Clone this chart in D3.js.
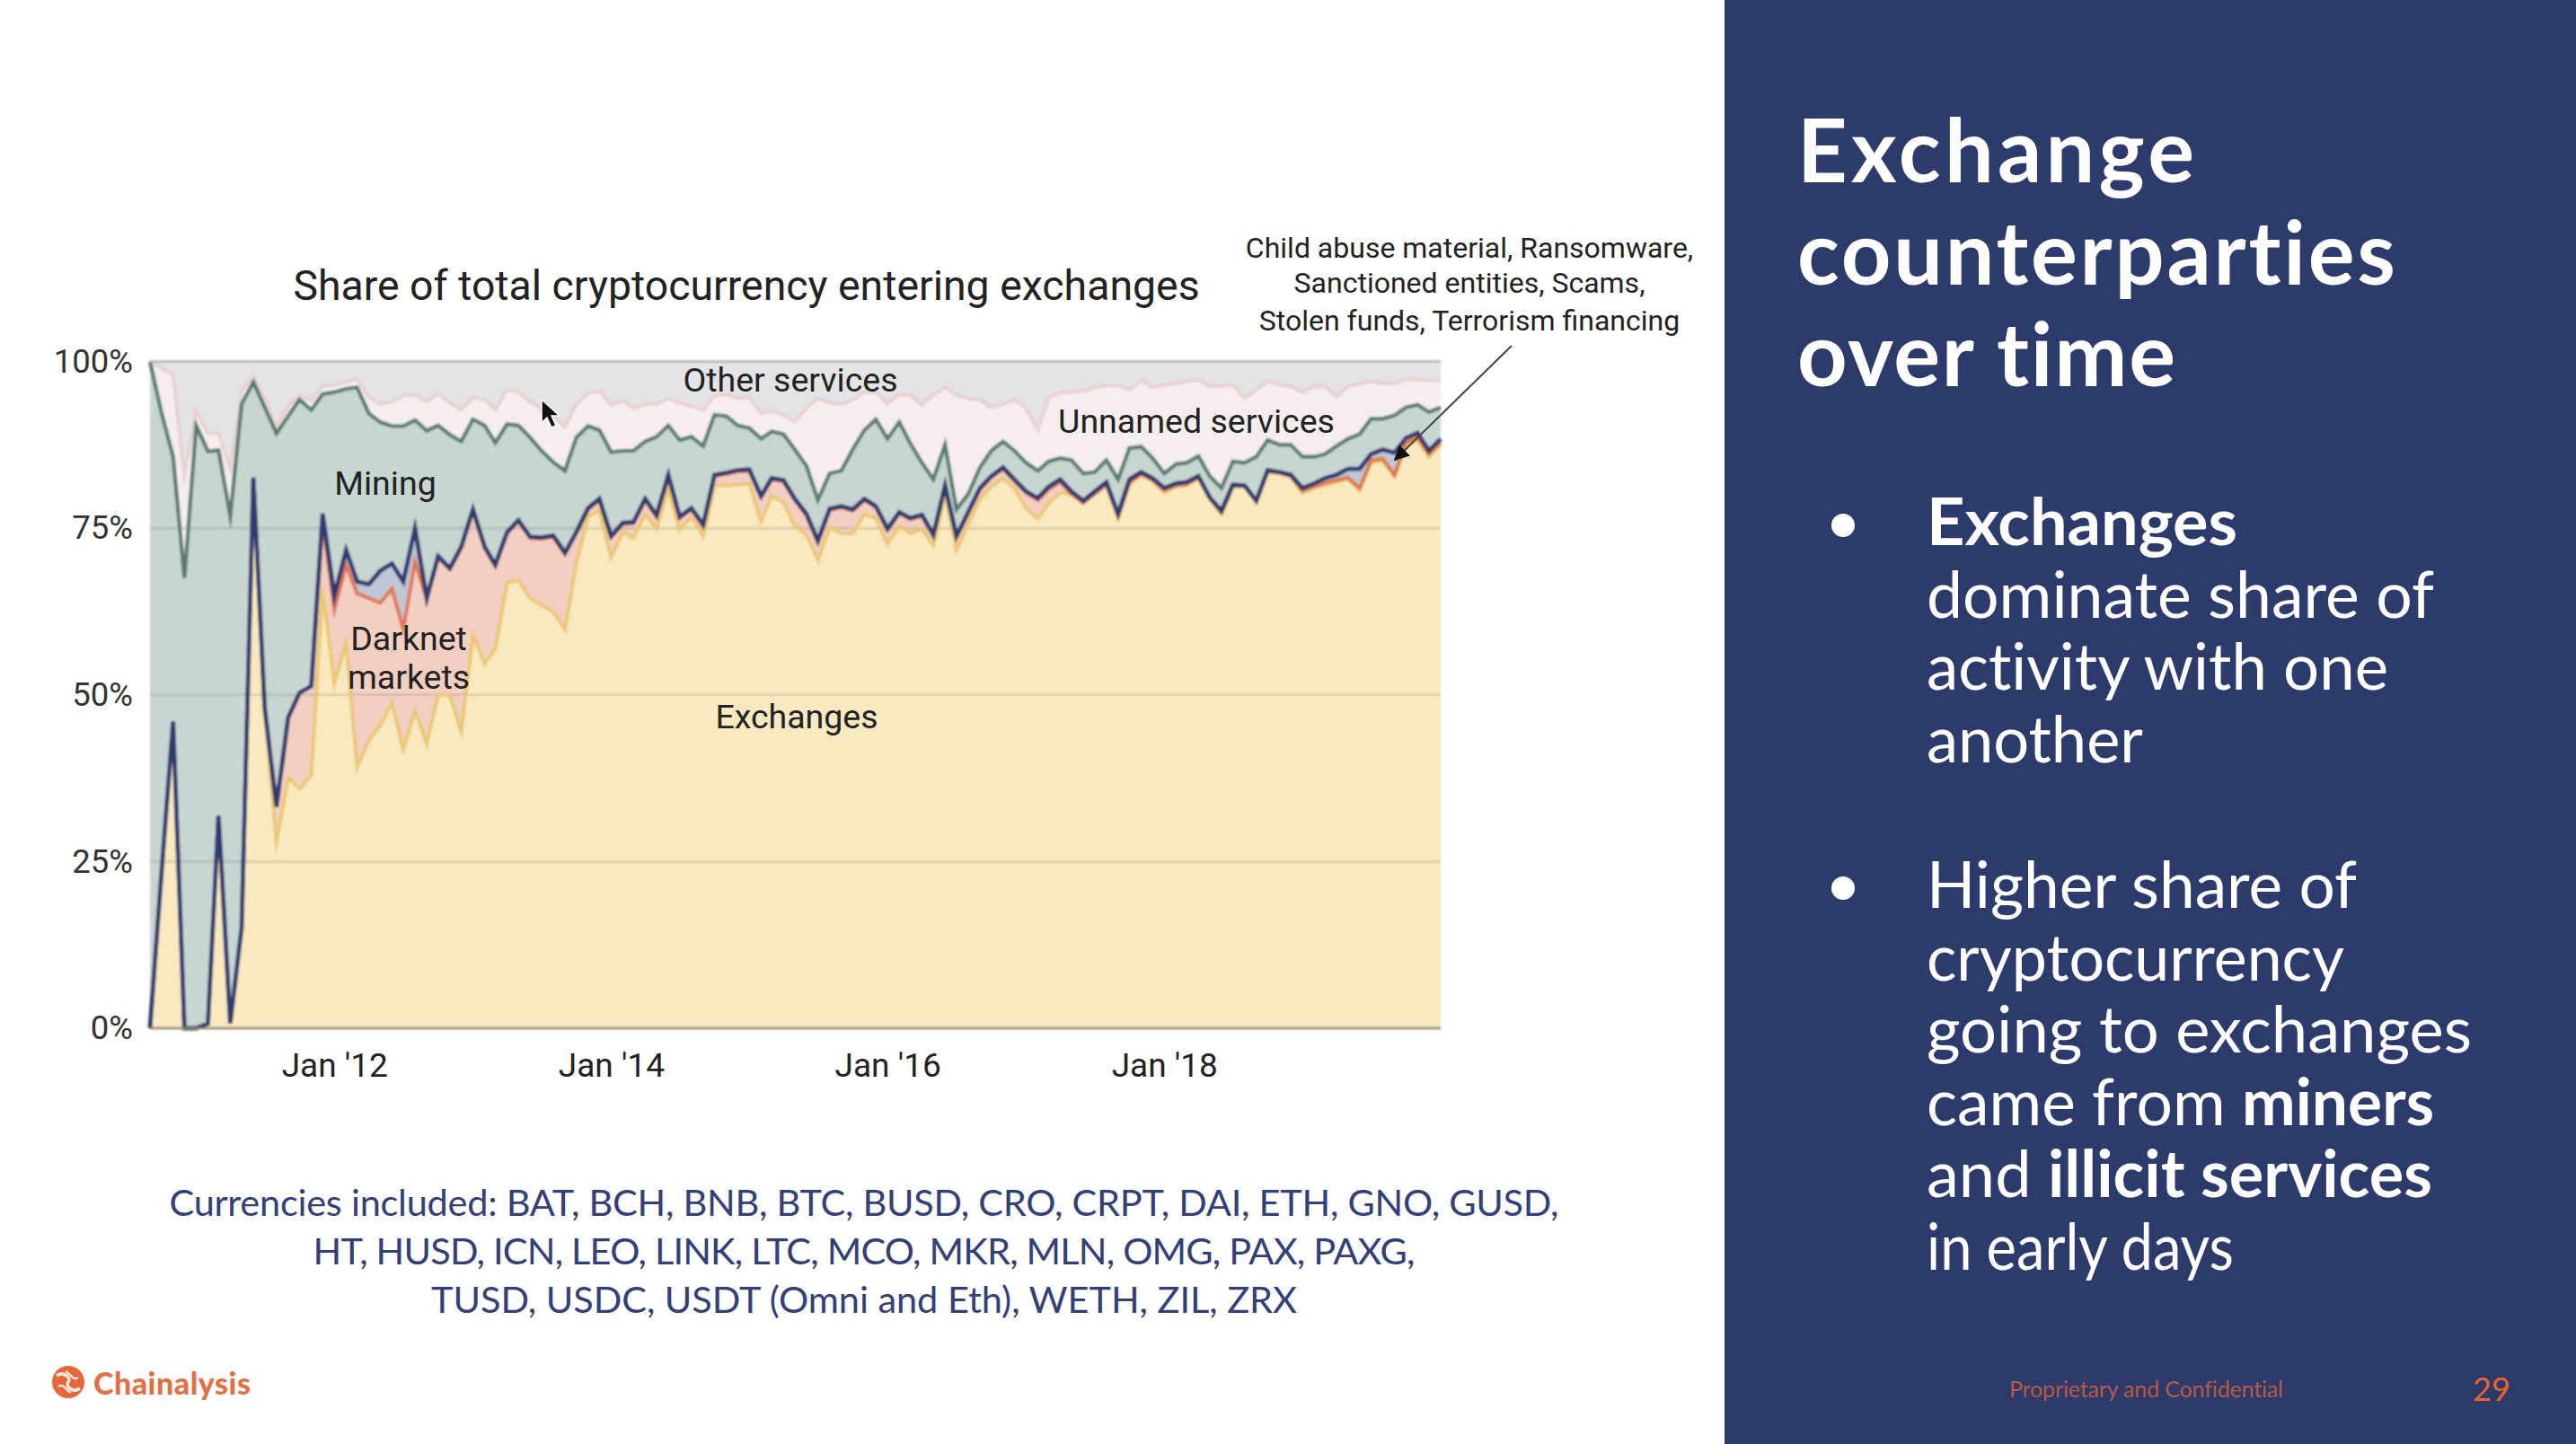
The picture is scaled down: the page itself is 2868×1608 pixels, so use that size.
<!DOCTYPE html>
<html><head><meta charset="utf-8">
<script src="https://cdnjs.cloudflare.com/ajax/libs/d3/7.8.5/d3.min.js"></script>
<style>
html,body{margin:0;padding:0;background:#fff;overflow:hidden}
svg{display:block}
.c{font-family:Roboto,sans-serif;fill:#222}
.m{font-family:Lato,sans-serif;font-variant-ligatures:none}
</style></head><body>
<script>
// Cumulative share (%) at the top of each stacked layer, monthly Sep 2010 - Jan 2020
const exchangesTop=[
0,23,46,0,0,0.7,31.9,0.7,15,82.5,
48,27.9,37.6,35.9,37.9,65.8,51.7,57.8,39.1,43.2,
45.4,48.8,41.8,47.6,42.7,50.1,49.9,44.5,58.9,54.6,
56.9,66.8,67.2,64.5,63.4,62.5,59.8,69.7,76.7,77.6,
70.6,74.4,73.5,77.1,74.9,81,74.7,76.7,73.8,81.4,
81.4,81.5,81.7,76,79.8,78.9,75.3,74,70.2,75.1,
74.2,74.2,77.1,76.5,72.6,75.3,74.2,74.9,72.4,80.1,
71.7,75.5,79.4,81.2,82.5,81,78,76.4,78.7,80.3,
80.1,78.7,80.3,81.4,76.6,81.6,83,82.1,80.3,81.2,
81.4,82.5,79.4,77.1,81.2,81.2,78.9,83.4,83.2,82.7,
80.3,81,81.4,81.9,82.3,80.7,84.8,85,82.7,87.3,
88.2,85.7,87.5];
const darknetTop=[
0,23,46,0,0,0.7,31.9,0.7,15,82.5,
48,33.2,46.6,50.3,51.3,76,62.8,69.5,65.2,64.5,
63.8,65.9,59.8,70,64.3,70.6,68.8,72,77.6,72,
69.3,74.2,76,73.5,73.4,73.7,71.1,74.2,77.8,79.2,
73.6,75.6,75.7,79.2,76.7,82.8,76.5,77.8,75.3,82.8,
83.1,83.5,83.6,79.6,82.3,82,79.2,76.9,72.9,77.7,
78.1,77.6,79.2,78.1,74.7,77.2,76.3,76.8,73.8,81.2,
73.6,77.2,80.8,82.6,83.9,82.1,80.3,79.2,80.8,81.9,
80.1,78.8,80.1,81.5,76.8,81.9,83.1,82.2,80.7,81.4,
81.6,82.6,79.5,77.3,81.3,81.3,79,83.5,83.3,82.8,
80.6,81.3,81.8,82.2,82.6,81,85.2,85.4,83,87.8,
88.6,86.1,87.9];
const illicitTop=[
0,23,46,0,0,0.7,31.9,0.7,15.1,82.6,
48,33.2,46.6,50.3,51.3,77.2,64.8,71.7,67,66.6,
68.6,69.7,67,75,64.5,70.8,69,72.2,77.8,72.2,
69.5,74.4,76.2,73.7,73.6,73.9,71.3,74.4,78,79.4,
73.8,75.8,75.9,79.4,76.9,83,76.7,78,75.5,83,
83.3,83.7,83.8,79.8,82.5,82.2,79.4,77.1,73.1,77.9,
78.3,77.8,79.4,78.3,74.9,77.4,76.5,77,74,81.4,
73.8,77.4,81,82.8,84.1,82.3,80.5,79.5,81.2,82.3,
80.5,79.1,80.5,81.9,77.1,82.3,83.4,82.5,81,81.7,
81.9,82.8,79.6,77.6,81.5,81.4,79.1,83.7,83.4,83,
81,81.7,82.5,83,83.9,83.9,86.1,86.8,86.3,88.5,
89.3,86.6,88.4];
const miningTop=[
100,92.4,85.7,67.5,90.4,86.5,86.7,76.8,93.6,96.9,
93.1,89.2,91.8,94.3,92.7,95.1,95.4,95.9,96.1,92.2,
90.9,90.3,90.3,91.2,89.6,90.4,89,88,91.3,90.4,
87.8,90.6,90.4,88.6,86.6,84.9,83.6,88.6,90.3,89.7,
86.4,86.6,86.6,88,88.7,90.4,88.2,88.7,87.3,92,
91.8,90.4,90,88.4,89.5,89.1,86.8,84.3,79.2,83.2,
83.6,86.8,89.7,91.3,88.4,90.9,87.7,84.8,82.3,87.5,
77.8,80.1,84.1,86.6,88,86.6,84.8,83.6,85,85.5,
85.2,83.2,83.4,85.2,82.3,87,87.2,85.5,83.2,84.6,
84.8,85.8,82.8,81,85,84.8,85.7,88.2,87.5,87.5,
85.7,85.7,86.1,87.3,88.4,89.1,91.4,91.4,91.9,93.1,
93.5,92.4,93.1];
const unnamedTop=[
100,99,98,83,92.7,89.2,89.3,84,95.6,97.8,
94.3,90.2,93.3,94.9,94.2,96.3,96.5,96.9,97.4,94.7,
93.6,94,94.9,95,94,95.2,93.8,92.8,94.6,94.3,
92.8,95.8,95.4,94,92.9,92,90.2,93.6,95.2,95.6,
93.5,94.2,93,93.6,93.6,94.5,93.8,93.3,92.7,94.9,
95.1,94.5,94.7,92.2,92.6,92,91,93,94.5,93.8,
93.6,94.2,95.4,95.4,93.7,95.1,95,93.5,95,96.1,
95,94.4,94.3,93.1,93.6,94.3,93,89.8,94.5,95.4,
95.4,95.6,96.1,96.4,96.4,95.8,97.2,96.1,96.5,96.7,
97,97.2,96.3,96.3,96.5,94.5,95.8,97,96.5,96.3,
95.4,96.3,96.3,94.7,96.3,96.7,97,96.7,96.7,97.3,
97.3,97.2,97.2];
const otherTop=exchangesTop.map(()=>100);
const zeroBase=exchangesTop.map(()=>0);

const yTickValues=[0,25,50,75,100];
const xTickYears=[2012,2014,2016,2018];
const chartTitle="Share of total cryptocurrency entering exchanges";
const annotationLines=["Child abuse material, Ransomware,","Sanctioned entities, Scams,","Stolen funds, Terrorism financing"];
const currencyLines=["Currencies included: BAT, BCH, BNB, BTC, BUSD, CRO, CRPT, DAI, ETH, GNO, GUSD,","HT, HUSD, ICN, LEO, LINK, LTC, MCO, MKR, MLN, OMG, PAX, PAXG,","TUSD, USDC, USDT (Omni and Eth), WETH, ZIL, ZRX"];
const panelTitle=["Exchange","counterparties","over time"];
const bullet1=[[["Exchanges",1]],[["dominate share of",0]],[["activity with one",0]],[["another",0]]];
const bullet2=[[["Higher share of",0]],[["cryptocurrency",0]],[["going to exchanges",0]],[["came from ",0],["miners",1]],[["and ",0],["illicit services",1]],[["in early days",0]]];

const W=2868,H=1608;
const svg=d3.select("body").append("svg").attr("width",W).attr("height",H).attr("viewBox",`0 0 ${W} ${H}`);
svg.append("rect").attr("width",W).attr("height",H).attr("fill","#fff");
const defs=svg.append("defs");
defs.append("filter").attr("id","soft").attr("x","-2%").attr("y","-2%").attr("width","104%").attr("height","104%")
  .append("feGaussianBlur").attr("stdDeviation",1);

const dates=exchangesTop.map((_,i)=>new Date(Date.UTC(2010,8+i,1)));
const x=d3.scaleUtc().domain([dates[0],dates[dates.length-1]]).range([167,1604]);
const y=d3.scaleLinear().domain([0,100]).range([1145,402.5]);

const marks=svg.append("g").attr("filter","url(#soft)");
const layers=[
 {b:zeroBase,t:exchangesTop,fill:"#f9e9c0"},
 {b:exchangesTop,t:darknetTop,fill:"#f3cfc3"},
 {b:darknetTop,t:illicitTop,fill:"#bfc6d6"},
 {b:illicitTop,t:miningTop,fill:"#c8d6d1"},
 {b:miningTop,t:unnamedTop,fill:"#f6eeee"},
 {b:unnamedTop,t:otherTop,fill:"#e2e4e6"}];
marks.selectAll("path.a").data(layers).join("path").attr("class","a")
 .attr("fill",d=>d.fill)
 .attr("d",d=>d3.area().x((_,i)=>x(dates[i])).y0((_,i)=>y(d.b[i])).y1(v=>y(v))(d.t));

// gridlines
marks.append("g").selectAll("line").data([25,50,75]).join("line")
 .attr("x1",167).attr("x2",1604).attr("y1",d=>y(d)).attr("y2",d=>y(d))
 .attr("stroke","#6e6e5a").attr("stroke-opacity",0.25).attr("stroke-width",2.5);

const lines=[
 {v:unnamedTop,c:"#e9d0d3",w:4},
 {v:exchangesTop,c:"#ebc873",w:4},
 {v:darknetTop,c:"#e0774f",w:4},
 {v:miningTop,c:"#587a6e",w:4.2},
 {v:illicitTop,c:"#2f3b70",w:4.8}];
marks.selectAll("path.l").data(lines).join("path").attr("class","l")
 .attr("fill","none").attr("stroke",d=>d.c).attr("stroke-width",d=>d.w).attr("stroke-linejoin","miter").attr("stroke-miterlimit",8)
 .attr("d",d=>d3.line().x((_,i)=>x(dates[i])).y(v=>y(v))(d.v));

// top border and baseline
marks.append("line").attr("x1",167).attr("x2",1604).attr("y1",y(100)).attr("y2",y(100)).attr("stroke","#b7bbc4").attr("stroke-width",3);
marks.append("line").attr("x1",167).attr("x2",1604).attr("y1",y(0)).attr("y2",y(0)).attr("stroke","#8b8468").attr("stroke-width",2.5);

// axes
const gx=svg.append("g").attr("transform",`translate(0,${y(0)})`)
 .call(d3.axisBottom(x).tickValues(xTickYears.map(v=>new Date(Date.UTC(v,0,1)))).tickSize(0).tickPadding(28)
   .tickFormat(d=>"Jan '"+String(d.getUTCFullYear()).slice(2)));
gx.select(".domain").remove();
gx.selectAll("text").attr("class","c").attr("font-size",37).attr("fill","#333").style("font-family","Roboto");
const gy=svg.append("g").attr("transform","translate(167,0)")
 .call(d3.axisLeft(y).tickValues(yTickValues).tickSize(0).tickPadding(19).tickFormat(d=>d+"%"));
gy.select(".domain").remove();
gy.selectAll("text").attr("font-size",36.5).attr("fill","#333").style("font-family","Roboto");

function txt(s,px,py,size,opts={}){
 const t=svg.append("text").attr("class",opts.cls||"c").attr("x",px).attr("y",py).attr("font-size",size)
  .attr("text-anchor",opts.anchor||"middle").attr("dominant-baseline",opts.base||"central")
  .attr("fill",opts.fill||"#222").attr("font-weight",opts.weight||400).text(s);
 if(opts.len) t.attr("textLength",opts.len).attr("lengthAdjust","spacing");
 return t;
}
txt(chartTitle,831,318,46.4,{fill:"#222"});
txt("Other services",880,423,37.5);
txt("Unnamed services",1332,469,37.5);
txt("Mining",429,538,37.5);
txt("Darknet",455,711,37.5);
txt("markets",455,754,37.5);
txt("Exchanges",887,798,37.5);
annotationLines.forEach((s,i)=>txt(s,1636,[276,315,357][i],32,{fill:"#333"}));

// annotation arrow
defs.append("marker").attr("id","ah").attr("viewBox","0 0 10 10").attr("refX",9).attr("refY",5)
 .attr("markerWidth",17).attr("markerHeight",17).attr("markerUnits","userSpaceOnUse").attr("orient","auto")
 .append("path").attr("d","M0,0L10,5L0,10Z").attr("fill","#111");
svg.append("line").attr("x1",1683).attr("y1",385).attr("x2",1553).attr("y2",512)
 .attr("stroke","#444").attr("stroke-width",2).attr("marker-end","url(#ah)");

// mouse pointer captured in the screenshot
svg.append("path").attr("transform","translate(603,445)").attr("fill","#111").attr("stroke","#fff").attr("stroke-width",1.5)
 .attr("d","M0,0L0,26L6,20L11,31L16,29L11,18L20,18Z");

// currencies
currencyLines.forEach((s,i)=>txt(s,962,[1338,1392,1446][i],41.5,{cls:"m",fill:"#343f76",len:[1547,1227,964][i]}));

// logo
const logo=svg.append("g").attr("transform","translate(76,1539)");
logo.append("circle").attr("r",18).attr("fill","#e4693a");
logo.append("path").attr("d","M-13,-7C-5,-13 4,-4 0,0C-4,4 5,13 13,7").attr("fill","none").attr("stroke","#fbe6da").attr("stroke-width",3.5);
logo.append("path").attr("d","M-11,5C-5,1 -3,9 3,12M11,-5C5,-1 3,-9 -3,-12").attr("fill","none").attr("stroke","#fbe6da").attr("stroke-width",2.5);
txt("Chainalysis",104,1539,34,{cls:"m",anchor:"start",fill:"#df7147",weight:900,len:175});

// right panel
svg.append("rect").attr("x",1920).attr("y",0).attr("width",948).attr("height",H).attr("fill","#2d3a6c");
panelTitle.forEach((s,i)=>svg.append("text").attr("class","m").attr("x",2001).attr("y",[203,317,430][i])
 .attr("font-size",97).attr("font-weight",700).attr("fill","#fff")
 .attr("textLength",[442,666,421][i]).attr("lengthAdjust","spacing").text(s));
function bullets(rows,ys,dotY,lens){
 svg.append("circle").attr("cx",2052).attr("cy",dotY).attr("r",13).attr("fill","#fff");
 rows.forEach((runs,i)=>{
  const t=svg.append("text").attr("class","m").attr("x",2145).attr("y",ys[i]).attr("font-size",72).attr("fill","#fff")
   .attr("textLength",lens[i]).attr("lengthAdjust","spacingAndGlyphs");
  runs.forEach(r=>t.append("tspan").attr("font-weight",r[1]?700:400).text(r[0]));
 });
}
bullets(bullet1,[607,688,768,849],585,[346,565,514,241]);
bullets(bullet2,[1011,1092,1172,1253,1333,1414],989,[479,465,607,565,563,342]);
txt("Proprietary and Confidential",2237,1546,25,{cls:"m",anchor:"start",fill:"#b95a42",len:305});
txt("29",2753,1546,36,{cls:"m",anchor:"start",fill:"#e4662f"});
</script>
</body></html>
